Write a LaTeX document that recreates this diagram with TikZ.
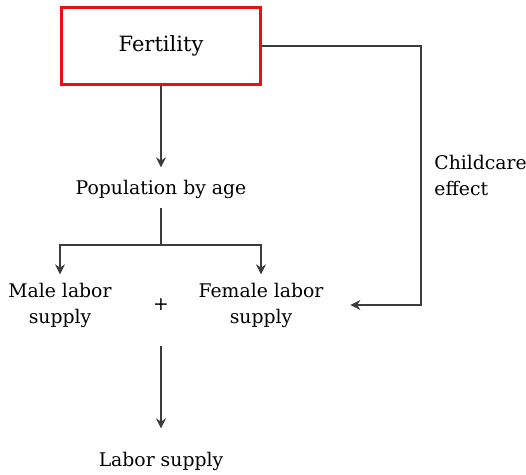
\documentclass[tikz,border=0pt]{standalone}
\usepackage{fontspec}
\setmainfont{DejaVu Serif}
\usetikzlibrary{arrows.meta}
\definecolor{boxred}{RGB}{232,16,16}
\definecolor{linegray}{RGB}{60,60,60}
\begin{document}
\begin{tikzpicture}[x=0.5pt, y=-0.5pt, font=\fontsize{9.4}{13}\selectfont,
        every node/.style={align=center, inner sep=0pt},
        conn/.style={draw=linegray, line width=0.6pt, -{Stealth[length=5pt, width=5pt]}}]
        \useasboundingbox (0,0) rectangle (526,475);
        \node[draw=boxred, line width=1.1pt, minimum width=99.5pt, minimum height=38.5pt, font=\fontsize{10.5}{13}\selectfont] (fert) at (161,46) {Fertility};
        \node (pop) at (161,189) {Population by age};
        \node (male) at (60,305) {Male labor\\supply};
        \node (plus) at (161,305) {+};
        \node (female) at (261,305) {Female labor\\supply};
        \node[anchor=west, align=left] (care) at (434,175) {Childcare\\effect};
        \node (labor) at (161,461) {Labor supply};
        \coordinate (split) at (161,245);
        \coordinate (corner) at (421,305);
        \draw[conn] (fert) -- ([yshift=6pt]pop.north);
        \draw[draw=linegray, line width=0.6pt] ([yshift=-4.5pt]pop.south) -- (split);
        \draw[conn] (split) -| ([yshift=4pt]male.north);
        \draw[conn] (split) -| ([yshift=4pt]female.north);
        \draw[conn] (fert.east) -| (corner) -- ([xshift=13.3pt]female.east);
        \draw[conn] ([yshift=-17.5pt]plus.south) -- ([yshift=11.5pt]labor.north);
\end{tikzpicture}
\end{document}
